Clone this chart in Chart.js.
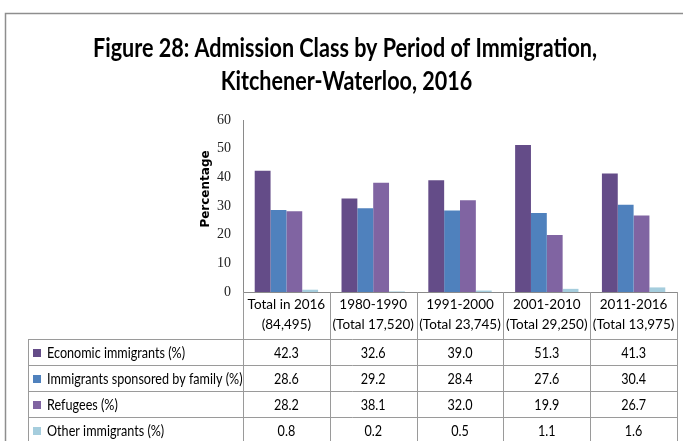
<!DOCTYPE html>
<html><head><meta charset="utf-8">
<script src="https://cdn.jsdelivr.net/npm/chart.js@4"></script>
<style>html,body{margin:0;padding:0;background:#fff}#wrap{width:683px;height:441px}</style>
</head><body><div id="wrap"><canvas id="c" width="683" height="441"></canvas></div>
<script>
const TITLE_LINES = ["Figure 28: Admission Class by Period of Immigration,", "Kitchener-Waterloo, 2016"];
const Y_TITLE = "Percentage";
const categories = [["Total in 2016","(84,495)"],["1980-1990","(Total 17,520)"],["1991-2000","(Total 23,745)"],["2001-2010","(Total 29,250)"],["2011-2016","(Total 13,975)"]];
const seriesNames = ["Economic immigrants (%)","Immigrants sponsored by family (%)","Refugees (%)","Other immigrants (%)"];
const economic = [42.3, 32.6, 39.0, 51.3, 41.3];
const family = [28.6, 29.2, 28.4, 27.6, 30.4];
const refugees = [28.2, 38.1, 32.0, 19.9, 26.7];
const other = [0.8, 0.2, 0.5, 1.1, 1.6];
const yTicks = [0, 10, 20, 30, 40, 50, 60];
const seriesColors = ['#644C88', '#4F81BD', '#8064A2', '#A5CDDD'];

const SANS = 'Lato, "Liberation Sans", sans-serif';

function squeezeText(ctx, text, x, y, align, sx) {
  ctx.save();
  ctx.translate(x, y);
  ctx.scale(sx, 1);
  ctx.textAlign = align;
  ctx.fillText(text, 0, 0);
  ctx.restore();
}

const frameTable = {
  id: 'frameTable',
  beforeDraw(chart) {
    const ctx = chart.ctx;
    ctx.save();
    ctx.fillStyle = '#fff';
    ctx.fillRect(0, 0, chart.width, chart.height);
    ctx.strokeStyle = '#8e8e8e';
    ctx.lineWidth = 1.5;
    ctx.beginPath();
    ctx.moveTo(5.5, chart.height);
    ctx.lineTo(5.5, 13.5);
    ctx.lineTo(chart.width, 13.5);
    ctx.stroke();
    ctx.restore();
  },
  afterDraw(chart) {
    const ctx = chart.ctx, xs = chart.scales.x, area = chart.chartArea;
    const n = chart.data.labels.length;
    const cw = (xs.right - xs.left) / n;
    const tableLeft = 28, rowTop = 339, rowH = 26, bottom = chart.height;
    ctx.save();
    // title (tall, condensed look)
    ctx.fillStyle = '#000';
    ctx.textBaseline = 'alphabetic';
    ctx.font = 'bold 27px ' + SANS;
    const tsx = 504 / ctx.measureText(TITLE_LINES[0]).width;
    squeezeText(ctx, TITLE_LINES[0], 345, 56.5, 'center', tsx);
    squeezeText(ctx, TITLE_LINES[1], 346.5, 90, 'center', tsx);
    // y title
    ctx.save();
    ctx.translate(205.5, 189);
    ctx.rotate(-Math.PI / 2);
    ctx.font = 'bold 12px "DejaVu Sans", Verdana, sans-serif';
    ctx.textBaseline = 'middle';
    ctx.textAlign = 'center';
    ctx.fillText(Y_TITLE, 0, 0);
    ctx.restore();
    // table lines
    ctx.strokeStyle = '#9a9a9a';
    ctx.lineWidth = 1;
    ctx.beginPath();
    for (let i = 0; i <= n; i++) {
      const x = Math.round(xs.left + i * cw) + 0.5;
      ctx.moveTo(x, area.bottom);
      ctx.lineTo(x, bottom);
    }
    ctx.moveTo(tableLeft + 0.5, rowTop);
    ctx.lineTo(tableLeft + 0.5, bottom);
    chart.data.datasets.forEach((ds, r) => {
      const y = rowTop + r * rowH + 0.5;
      ctx.moveTo(tableLeft, y);
      ctx.lineTo(xs.right + 0.5, y);
    });
    ctx.stroke();
    // table text
    ctx.font = '16px ' + SANS;
    const fsx = 138 / ctx.measureText(seriesNames[0]).width;
    ctx.textBaseline = 'middle';
    chart.data.datasets.forEach((ds, r) => {
      const cy = rowTop + r * rowH + rowH / 2 + 0.5;
      ctx.fillStyle = ds.backgroundColor;
      ctx.fillRect(33, Math.round(cy - 4), 8, 8);
      ctx.fillStyle = '#000';
      squeezeText(ctx, ds.label, 47, cy, 'left', fsx);
      ds.data.forEach((v, i) => {
        squeezeText(ctx, v.toFixed(1), xs.getPixelForValue(i), cy, 'center', fsx);
      });
    });
    ctx.restore();
  }
};

const seriesData = [economic, family, refugees, other];
new Chart(document.getElementById('c'), {
  type: 'bar',
  data: {
    labels: categories,
    datasets: seriesData.map((d, k) => ({
      label: seriesNames[k],
      data: d,
      backgroundColor: seriesColors[k],
      borderWidth: 0,
      categoryPercentage: 0.73,
      barPercentage: 1.0
    }))
  },
  options: {
    responsive: false,
    animation: false,
    layout: { padding: { left: 195, right: 6, top: 120, bottom: 0 } },
    plugins: { legend: { display: false }, title: { display: false }, tooltip: { enabled: false } },
    scales: {
      x: {
        grid: { display: false, drawTicks: false },
        border: { display: true, color: '#8a8a8a' },
        ticks: { padding: 3, maxRotation: 0, autoSkip: false, color: '#000',
                 font: { family: SANS, size: 13.5, lineHeight: 20 / 13.5 } },
        afterFit(s) { s.height = 149; }
      },
      y: {
        min: 0, max: 60,
        grid: { display: false, drawTicks: false },
        border: { display: true, color: '#8a8a8a' },
        ticks: { stepSize: 10, padding: 12, color: '#222',
                 font: { family: '"Liberation Serif", serif', size: 14 } },
        afterBuildTicks(s) { s.ticks = yTicks.map(v => ({ value: v })); },
        afterFit(s) { s.width = 48; }
      }
    }
  },
  plugins: [frameTable]
});
</script>
</body></html>
